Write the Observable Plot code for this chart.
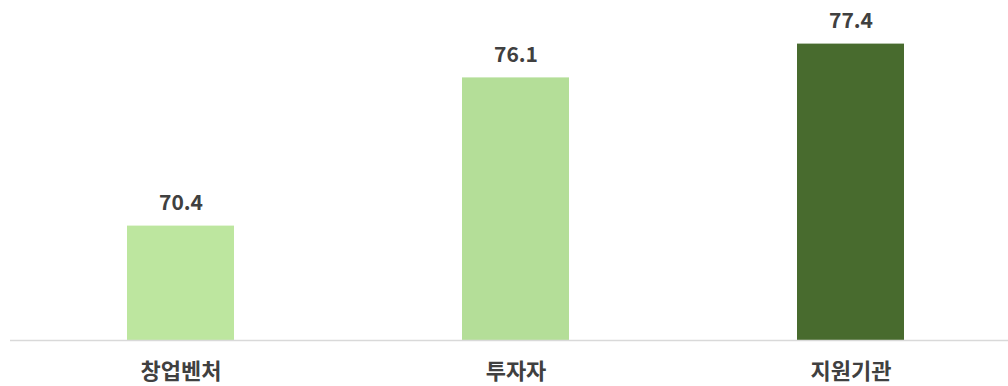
<!DOCTYPE html>
<html>
<head>
<meta charset="utf-8">
<script src="https://cdn.jsdelivr.net/npm/d3@7"></script>
<script src="https://cdn.jsdelivr.net/npm/@observablehq/plot@0.6"></script>
<style>
  html, body { margin: 0; padding: 0; background: #fff; }
  svg { display: block; }
</style>
</head>
<body>
<div id="chart"></div>
<script>
const categories = ["창업벤처", "투자자", "지원기관"];
const values = [70.4, 76.1, 77.4];
const colors = ["#bde69f", "#b4de98", "#486b2e"];

const data = categories.map((c, i) => ({cat: c, value: values[i], color: colors[i]}));
const font = "'Noto Sans CJK KR', 'Noto Sans', sans-serif";

const chart = Plot.plot({
  width: 1008,
  height: 386,
  marginTop: 2,
  marginBottom: 46,
  marginLeft: 10,
  marginRight: 0,
  style: {fontFamily: font, background: "#fff"},
  x: {domain: categories, range: [13, 1018], paddingInner: 0.68, paddingOuter: 0.34, label: null},
  y: {domain: [66, 79], axis: null},
  marks: [
    Plot.barY(data, {x: "cat", y1: 66, y2: "value", fill: "color"}),
    Plot.ruleY([66], {stroke: "#d9d9d9", strokeWidth: 1.5}),
    Plot.text(data, {x: "cat", y: "value", text: d => d.value.toFixed(1), dy: -23, fontSize: 21, fontWeight: "bold", fill: "#404040", lineAnchor: "middle"}),
    Plot.axisX({tickSize: 0, tickPadding: 23, fontSize: 22, fontWeight: "bold", fill: "#404040", label: null})
  ]
});
document.getElementById("chart").appendChild(chart);
</script>
</body>
</html>
